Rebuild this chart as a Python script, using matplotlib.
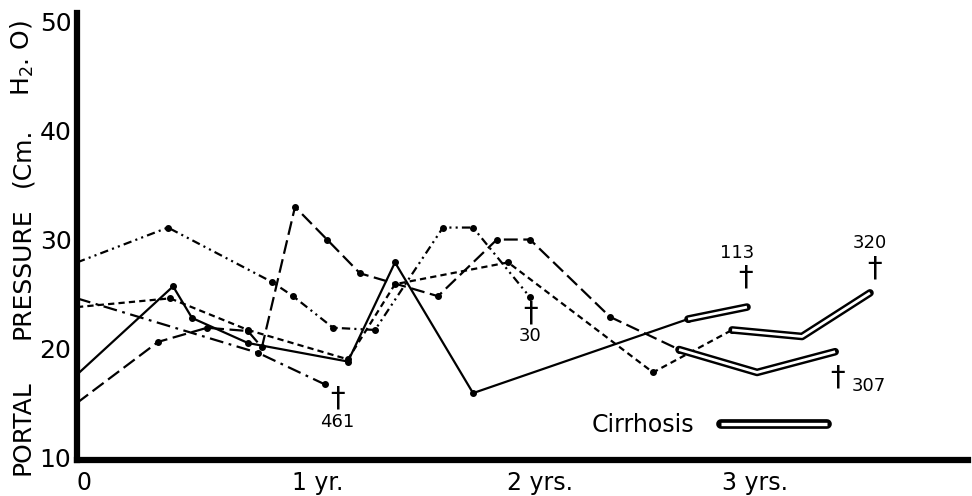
"""
Portal pressure follow-up chart (cm H2O over years), five patients.
"""
import matplotlib
matplotlib.use('Agg')
import matplotlib.pyplot as plt
import matplotlib.patheffects as pe
from matplotlib.lines import Line2D

plt.rcParams['font.family'] = ['DejaVu Sans']
plt.rcParams['lines.scale_dashes'] = False

# years since first measurement / portal pressure (cm H2O)
p113_years = [0, 0.447, 0.535, 0.795, 1.26, 1.479, 1.842, 2.842, 3.116]
p113_pressure = [17.6, 25.7, 22.8, 20.5, 18.8, 27.9, 15.9, 22.7, 23.8]
p113_cirrhosis = 7   # index of first point in cirrhosis

p320_years = [0, 0.433, 0.795, 1.26, 1.479, 2.005, 2.679, 3.047, 3.372, 3.688]
p320_pressure = [23.8, 24.6, 21.7, 19.0, 25.9, 27.9, 17.8, 21.7, 21.1, 25.1]
p320_cirrhosis = 7

p307_years = [0, 0.377, 0.605, 0.795, 0.86, 1.014, 1.163, 1.316, 1.679,
              1.953, 2.107, 2.479, 2.8, 3.163, 3.526]
p307_pressure = [15.0, 20.6, 21.9, 21.6, 20.1, 33.0, 30.0, 26.9, 24.8,
                 30.0, 30.0, 22.9, 19.9, 17.8, 19.7]
p307_cirrhosis = 12

p30_years = [0, 0.423, 0.907, 1.005, 1.191, 1.386, 1.702, 1.842, 2.107]
p30_pressure = [27.9, 31.1, 26.1, 24.8, 21.9, 21.7, 31.1, 31.1, 24.7]

p461_years = [0, 0.842, 1.153]
p461_pressure = [24.6, 19.6, 16.7]

y_ticks = [10, 20, 30, 40, 50]
x_ticks = [0, 1, 2, 3]
x_tick_labels = ['0', '1 yr.', '2 yrs.', '3 yrs.']

fig = plt.figure(figsize=(9.72, 4.96), dpi=100)
ax = fig.add_axes([0.0792, 0.0726, 0.9167, 0.9012])

cirrhosis_fx = [pe.Stroke(linewidth=5.5, foreground='black', capstyle='round', joinstyle='round'),
                pe.Normal()]


def draw_patient(years, pressure, dashes, cirrhosis=None):
    stop = len(years) if cirrhosis is None else cirrhosis + 1
    ax.plot(years[:stop], pressure[:stop], color='black', lw=1.6, linestyle=dashes,
            marker='o', ms=4, markevery=slice(1, None), clip_on=False)
    if cirrhosis is not None:
        ax.plot(years[cirrhosis:], pressure[cirrhosis:], color='white', lw=2.0,
                solid_capstyle='butt', solid_joinstyle='round',
                path_effects=cirrhosis_fx, zorder=3)


def mark_death(years, pressure, number, cross_off, label_off, ha='center'):
    end = (years[-1], pressure[-1])
    ax.annotate('\u2020', end, xytext=cross_off, textcoords='offset points',
                ha='center', va='center', fontsize=21)
    ax.annotate(number, end, xytext=label_off, textcoords='offset points',
                ha=ha, va='center', fontsize=13)


draw_patient(p113_years, p113_pressure, '-', p113_cirrhosis)
draw_patient(p320_years, p320_pressure, (0, (4.5, 3)), p320_cirrhosis)
draw_patient(p307_years, p307_pressure, (0, (10, 4)), p307_cirrhosis)
draw_patient(p30_years, p30_pressure, (0, (6, 3, 1.5, 3, 1.5, 3)))
draw_patient(p461_years, p461_pressure, (0, (10, 4, 2, 4)))

mark_death(p461_years, p461_pressure, '461', (9.4, -10), (8.6, -27))
mark_death(p30_years, p30_pressure, '30', (0, -12), (0, -28))
mark_death(p113_years, p113_pressure, '113', (-1.4, 21.6), (-7, 39))
mark_death(p320_years, p320_pressure, '320', (3.6, 17.3), (0, 36))
mark_death(p307_years, p307_pressure, '307', (1.4, -18.7), (12, -25), ha='left')

handle = Line2D([], [], color='white', lw=2.4, solid_capstyle='butt',
                path_effects=[pe.Stroke(linewidth=7, foreground='black', capstyle='round'),
                              pe.Normal()])
ax.legend([handle], ['Cirrhosis'], markerfirst=False, frameon=False, fontsize=17,
          handlelength=4.5, handletextpad=1.1, loc='center left',
          bbox_to_anchor=(592 / 972, 1 - 425 / 496), bbox_transform=fig.transFigure,
          borderpad=0, borderaxespad=0)

ax.set_xlim(0, 4.144)
ax.set_ylim(9.76, 50.8)
ax.set_yticks(y_ticks)
ax.set_yticklabels([str(v) for v in y_ticks], fontsize=18)
ax.set_xticks(x_ticks)
ax.set_xticklabels(x_tick_labels, fontsize=17, ha='left')
ax.tick_params(length=0)
ax.tick_params(axis='y', pad=4)
ax.tick_params(axis='x', pad=8)

for side in ['top', 'right']:
    ax.spines[side].set_visible(False)
for side in ['left', 'bottom']:
    ax.spines[side].set_linewidth(4.5)
    ax.spines[side].set_capstyle('projecting')

# y-axis title, spread out as in the original
for text, y_px in [('PORTAL', 428), ('PRESSURE', 273), ('(Cm.', 157), ('H$_2$. O)', 58)]:
    fig.text(22 / 972, 1 - y_px / 496, text, rotation=90, ha='center', va='center',
             fontsize=18)

plt.savefig('out.png', dpi=100)
plt.close()
